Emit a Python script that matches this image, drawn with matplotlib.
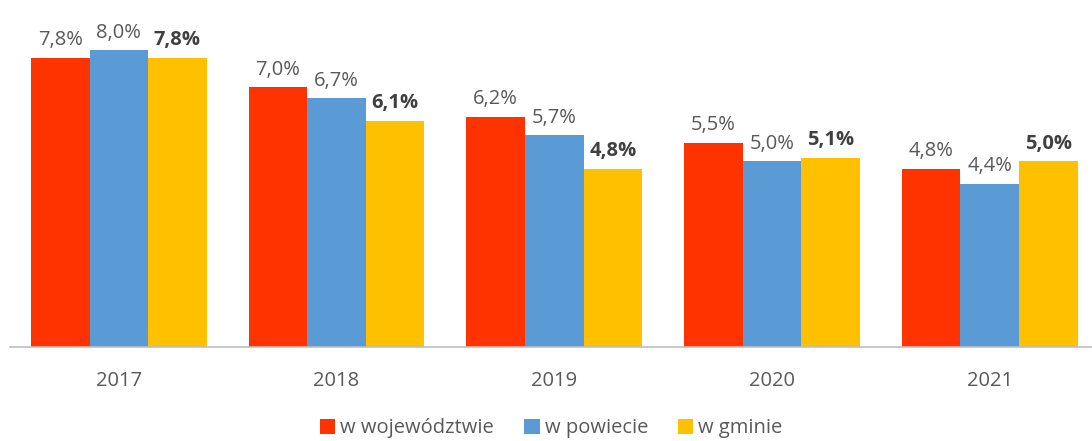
import numpy as np
import matplotlib
matplotlib.use("Agg")
import matplotlib.pyplot as plt

# Dane
lata = ["2017", "2018", "2019", "2020", "2021"]
wojewodztwo = [7.8, 7.0, 6.2, 5.5, 4.8]
powiat = [8.0, 6.7, 5.7, 5.0, 4.4]
gmina = [7.8, 6.1, 4.8, 5.1, 5.0]
nazwy = ["w województwie", "w powiecie", "w gminie"]
kolory = ["#FF3300", "#5B9BD5", "#FFC000"]

plt.rcParams['font.family'] = ['Open Sans', 'DejaVu Sans']
szary = "#595959"

fig = plt.figure(figsize=(10.92, 4.41), dpi=100)
ax = fig.add_axes([10 / 1092, 94 / 441, 1 - 10 / 1092, 347 / 441])

x = np.arange(len(lata))
w = 0.269
serie = [wojewodztwo, powiat, gmina]
for i, (vals, nazwa, kol) in enumerate(zip(serie, nazwy, kolory)):
    pos = x + (i - 1) * w
    ax.bar(pos, vals, width=w, color=kol, label=nazwa, zorder=2)
    for p, v in zip(pos, vals):
        txt = f"{v:.1f}%".replace(".", ",")
        ax.text(p, v + 0.2, txt, ha="center", va="bottom", fontsize=14.5,
                color=szary if i < 2 else "#404040",
                fontweight="bold" if i == 2 else "normal")

ax.set_xlim(-0.5, 4.47)
ax.set_ylim(0, 9.35)
for s in ["top", "right", "left"]:
    ax.spines[s].set_visible(False)
ax.spines["bottom"].set_color("#BFBFBF")
ax.spines["bottom"].set_linewidth(1.2)
ax.set_yticks([])
ax.set_xticks(x)
ax.set_xticklabels(lata, fontsize=14.5, color=szary)
ax.tick_params(axis="x", length=0, pad=17)

fig.legend(loc="lower center", bbox_to_anchor=(0.505, -0.035), ncol=3, frameon=False,
           fontsize=14.5, labelcolor=szary, handlelength=0.75, handleheight=0.75,
           handletextpad=0.25, columnspacing=1.5)

fig.savefig("out.png", dpi=100)
